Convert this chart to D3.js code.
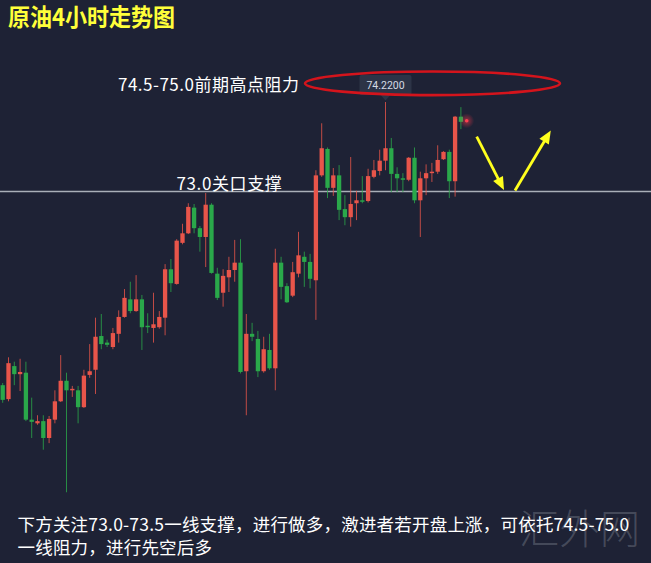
<!DOCTYPE html>
<html>
<head>
<meta charset="utf-8">
<script src="https://cdn.jsdelivr.net/npm/d3@7/dist/d3.min.js"></script>
<style>
  html, body { margin: 0; padding: 0; background: #1e2235; }
  svg { display: block; }
</style>
</head>
<body>
<svg id="chart" width="651" height="563"></svg>
<script>
// 4-hour crude oil candles (WTI), oldest first
const open  = [70.36,70.17,70.62,70.51,70.53,69.89,69.84,69.87,69.64,69.89,
               70.14,70.42,70.29,70.29,70.06,70.50,70.57,71.03,70.94,70.88,
               71.06,71.29,71.53,71.37,71.53,71.17,71.14,71.15,71.28,71.94,
               71.74,72.30,72.43,72.78,72.50,72.38,72.82,71.88,71.62,71.83,
               71.93,72.03,70.55,71.06,70.99,70.55,70.84,70.59,72.03,71.71,
               71.58,71.88,72.11,72.04,71.79,73.22,73.58,73.05,73.22,72.76,
               72.65,72.84,72.88,72.87,73.20,73.28,73.42,73.59,73.24,73.18,
               73.16,73.46,72.88,73.18,73.25,73.27,73.44,73.54,73.14,74.02];
const high  = [70.39,70.74,70.68,70.72,70.68,70.19,69.95,69.95,69.94,70.29,
               70.77,70.53,70.35,70.35,70.57,70.92,71.28,71.33,70.98,71.14,
               71.38,71.67,71.77,71.86,71.59,71.34,71.62,71.37,72.01,72.08,
               72.35,72.56,72.84,72.83,72.53,72.98,72.84,71.96,71.94,72.11,
               72.34,72.35,71.33,71.21,71.10,71.02,71.06,72.22,72.11,71.75,
               72.04,72.45,72.18,72.15,73.29,73.93,73.60,73.32,73.36,72.95,
               73.47,73.01,73.21,73.31,73.43,73.57,74.22,73.73,73.33,73.25,
               73.47,73.60,73.27,73.37,73.39,73.63,73.55,73.57,74.03,74.15];
const low   = [70.12,70.14,70.36,70.28,69.87,69.64,69.82,69.48,69.57,69.84,
               70.13,68.90,70.20,69.84,70.05,70.46,70.24,70.85,70.88,70.85,
               70.94,71.28,71.34,71.36,70.84,71.07,70.94,71.13,71.04,71.63,
               71.73,72.28,72.42,72.43,72.18,71.97,71.88,71.52,71.43,71.63,
               71.77,70.52,69.95,70.96,70.47,70.53,70.57,70.29,71.53,71.48,
               71.56,71.83,71.70,71.68,71.25,73.20,72.91,72.94,72.61,72.54,
               72.52,72.61,72.84,72.85,73.18,73.22,73.29,72.99,72.99,72.99,
               73.14,72.84,72.38,72.95,73.13,73.24,73.43,72.91,72.93,73.85];
const close = [70.16,70.66,70.51,70.54,69.89,69.86,69.87,69.64,69.90,70.14,
               70.42,70.29,70.31,70.06,70.49,70.55,71.02,70.92,70.91,71.07,
               71.29,71.55,71.37,71.53,71.15,71.15,71.19,71.29,71.94,71.75,
               72.33,72.43,72.79,72.50,72.38,72.82,71.89,71.55,71.85,71.93,
               72.03,70.54,71.06,71.02,70.55,70.85,70.59,72.03,71.70,71.49,
               71.90,72.13,72.04,71.81,73.22,73.59,73.05,73.22,72.75,72.65,
               72.83,72.88,72.86,73.21,73.29,73.42,73.59,73.24,73.18,73.16,
               73.46,72.88,73.18,73.25,73.27,73.43,73.54,73.14,74.02,73.95];

// Key levels and notes
const supportLevel = 73.0;
const supportLabel = "73.0关口支撑";
const resistanceLabel = "74.5-75.0前期高点阻力";
const titleText = "原油4小时走势图";
const noteLines = [
  "下方关注73.0-73.5一线支撑，进行做多，激进者若开盘上涨，可依托74.5-75.0",
  "一线阻力，进行先空后多"
];
const siteMark = "汇外网";

const W = 651, H = 563;
const UP = "#e8554a", DOWN = "#2aa84a";
const CJK = "'Noto Sans CJK SC', 'Noto Sans', sans-serif";

const svg = d3.select("#chart");
svg.append("rect").attr("width", W).attr("height", H).attr("fill", "#1e2235");

const n = close.length;
const x = d3.scaleLinear().domain([0, n - 1]).range([2.7, 460.9]);
const y = d3.scaleLinear().domain([supportLevel, 74.22]).range([191.5, 102]);
const bodyW = 4.3;

const candles = d3.range(n).map(i => ({
  i, o: open[i], h: high[i], l: low[i], c: close[i], up: close[i] >= open[i]
}));

// Faint site mark behind the notes
svg.append("text")
  .attr("x", 519).attr("y", 544)
  .attr("font-family", CJK).attr("font-size", 41).attr("font-weight", 300)
  .attr("textLength", 121).attr("lengthAdjust", "spacingAndGlyphs")
  .attr("fill", "#9aa0aa").attr("fill-opacity", 0.32)
  .text(siteMark);

// Support line
svg.append("line")
  .attr("x1", 0).attr("x2", W)
  .attr("y1", y(supportLevel)).attr("y2", y(supportLevel))
  .attr("stroke", "#a9afb8").attr("stroke-width", 1.4);

const g = svg.append("g");
const cg = g.selectAll("g.candle").data(candles).join("g").attr("class", "candle");
cg.append("line")
  .attr("x1", d => x(d.i)).attr("x2", d => x(d.i))
  .attr("y1", d => y(d.h)).attr("y2", d => y(d.l))
  .attr("stroke", d => d.up ? UP : DOWN)
  .attr("stroke-opacity", 0.8)
  .attr("stroke-width", 1);
cg.append("rect")
  .attr("x", d => x(d.i) - bodyW / 2)
  .attr("width", bodyW)
  .attr("y", d => y(Math.max(d.o, d.c)))
  .attr("height", d => Math.max(1.2, Math.abs(y(d.o) - y(d.c))))
  .attr("fill", d => d.up ? UP : DOWN);

// Last-price marker with glow
const defs = svg.append("defs");
const glow = defs.append("radialGradient").attr("id", "glow");
glow.append("stop").attr("offset", "0%").attr("stop-color", "#ff3a4a").attr("stop-opacity", 0.55);
glow.append("stop").attr("offset", "100%").attr("stop-color", "#ff3a4a").attr("stop-opacity", 0);
svg.append("circle").attr("cx", x(n)).attr("cy", y(close[n - 1]) - 1)
  .attr("r", 7.5).attr("fill", "url(#glow)");
svg.append("circle").attr("cx", x(n)).attr("cy", y(close[n - 1]) - 1)
  .attr("r", 1.8).attr("fill", "#ff4050");

// High tooltip
const hiIdx = d3.maxIndex(high);
const hx = x(hiIdx), hy = y(high[hiIdx]);
svg.append("rect")
  .attr("x", hx - 26).attr("y", hy - 27).attr("width", 52).attr("height", 20)
  .attr("rx", 2).attr("fill", "#2d3447");
svg.append("path")
  .attr("d", `M${hx - 5},${hy - 7.2}L${hx + 5},${hy - 7.2}L${hx},${hy - 1.5}Z`)
  .attr("fill", "#2d3447");
svg.append("text")
  .attr("x", hx).attr("y", hy - 13)
  .attr("text-anchor", "middle")
  .attr("font-family", "Roboto, 'Noto Sans', sans-serif").attr("font-size", 10.5)
  .attr("fill", "#d6dbe4")
  .text(d3.format(".4f")(high[hiIdx]));

// Resistance zone ellipse
svg.append("ellipse")
  .attr("cx", 432.5).attr("cy", 83.3).attr("rx", 127.5).attr("ry", 11.8)
  .attr("fill", "none").attr("stroke", "#d4141c").attr("stroke-width", 2.6);

// Labels
svg.append("text")
  .attr("x", 118).attr("y", 90.5)
  .attr("font-family", CJK).attr("font-size", 17).attr("letter-spacing", 0.5)
  .attr("fill", "#ffffff")
  .text(resistanceLabel);
svg.append("text")
  .attr("x", 176.5).attr("y", 189.5)
  .attr("font-family", CJK).attr("font-size", 17).attr("letter-spacing", 0.6)
  .attr("fill", "#ffffff")
  .text(supportLabel);

// Title
svg.append("text")
  .attr("x", 8).attr("y", 26)
  .attr("font-family", CJK).attr("font-size", 24).attr("font-weight", 700)
  .attr("textLength", 167).attr("lengthAdjust", "spacingAndGlyphs")
  .attr("fill", "#ffff3a")
  .text(titleText);

// Expected path arrows
function arrow(x1, y1, x2, y2) {
  const dx = x2 - x1, dy = y2 - y1, len = Math.hypot(dx, dy);
  const ux = dx / len, uy = dy / len, px = -uy, py = ux;
  const headL = 13, headW = 5.5;
  const bx = x2 - ux * headL, by = y2 - uy * headL;
  svg.append("line")
    .attr("x1", x1).attr("y1", y1).attr("x2", bx + ux * 1).attr("y2", by + uy * 1)
    .attr("stroke", "#ffff1e").attr("stroke-width", 2.8);
  svg.append("path")
    .attr("d", `M${x2},${y2}L${bx + px * headW},${by + py * headW}L${bx - px * headW},${by - py * headW}Z`)
    .attr("fill", "#ffff1e");
}
arrow(476.7, 136.7, 504, 190);
arrow(515, 190.5, 550.8, 130.5);

// Notes
svg.append("g").selectAll("text").data(noteLines).join("text")
  .attr("x", 17.5).attr("y", (d, i) => 531 + i * 22.5)
  .attr("font-family", CJK).attr("font-size", 17.5).attr("letter-spacing", 0.2)
  .attr("fill", "#ffffff")
  .text(d => d);
</script>
</body>
</html>
